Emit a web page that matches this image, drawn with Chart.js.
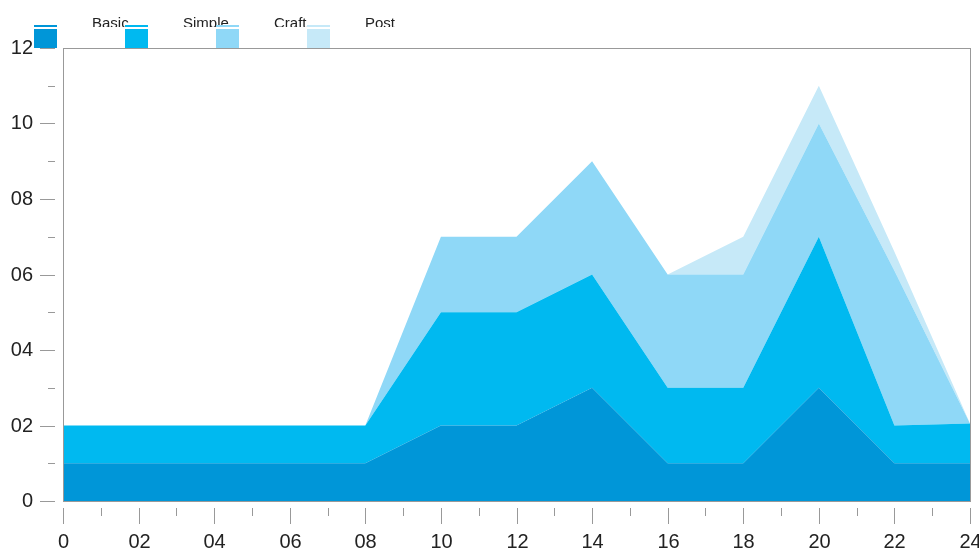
<!DOCTYPE html>
<html>
<head>
<meta charset="utf-8">
<script src="https://cdn.jsdelivr.net/npm/chart.js@4.4.1/dist/chart.umd.min.js"></script>
<style>
  body { margin: 0; background: #fff; }
  canvas { display: block; }
</style>
</head>
<body>
<canvas id="myChart" width="979" height="550"></canvas>
<script>
const hours = [0, 2, 4, 6, 8, 10, 12, 14, 16, 18, 20, 22, 24];
const seriesNames = ['Basic', 'Simple', 'Craft', 'Post'];
const basic = [1, 1, 1, 1, 1, 2, 2, 3, 1, 1, 3, 1, 1];
const simple = [1, 1, 1, 1, 1, 3, 3, 3, 2, 2, 4, 1, 1.05];
const craft = [0, 0, 0, 0, 0, 2, 2, 3, 3, 3, 3, 4.1, 0];
const post = [0, 0, 0, 0, 0, 0, 0, 0, 0, 1, 1, 0.5, 0];
const xTickLabels = ['0', '02', '04', '06', '08', '10', '12', '14', '16', '18', '20', '22', '24'];
const yTickLabels = ['0', '02', '04', '06', '08', '10', '12'];
const colors = ['#0096d8', '#00b9f0', '#8fd8f7', '#c6e9f8'];

const ctx = document.querySelector('#myChart').getContext('2d');
const font = "'Liberation Sans', Arial, sans-serif";

function points(values) {
    return values.map((v, i) => ({ x: hours[i], y: v }));
}

// axes, ticks and the odd legend are drawn by hand
const decorations = {
    id: 'decorations',
    afterDraw(chart) {
        const c = chart.ctx;
        const area = chart.chartArea;
        const xs = chart.scales.x;
        const ys = chart.scales.y;
        c.save();
        c.strokeStyle = '#999';
        c.lineWidth = 1;
        c.strokeRect(Math.round(area.left) + 0.5, Math.round(area.top) + 0.5,
            Math.round(area.right - area.left), Math.round(area.bottom - area.top));

        c.strokeStyle = '#999';
        c.fillStyle = '#222';
        c.font = '20px ' + font;

        // y ticks
        c.textAlign = 'right';
        c.textBaseline = 'middle';
        for (let v = 0; v <= 12; v++) {
            const y = Math.round(ys.getPixelForValue(v)) + 0.5;
            c.beginPath();
            c.moveTo(v % 2 === 0 ? 40 : 48, y);
            c.lineTo(55, y);
            c.stroke();
            if (v % 2 === 0) c.fillText(yTickLabels[v / 2], 33, y);
        }

        // x ticks
        c.textAlign = 'center';
        c.textBaseline = 'middle';
        for (let v = 0; v <= 24; v++) {
            const x = Math.round(xs.getPixelForValue(v)) + 0.5;
            c.beginPath();
            c.moveTo(x, 508);
            c.lineTo(x, v % 2 === 0 ? 524 : 516);
            c.stroke();
            if (v % 2 === 0) c.fillText(xTickLabels[v / 2], x, 542);
        }

        // legend
        seriesNames.forEach((name, i) => {
            const bx = 34 + i * 91;
            c.fillStyle = colors[i];
            c.fillRect(bx, 25, 23, 2);
            c.fillRect(bx, 29, 23, 19);
            c.save();
            c.beginPath();
            c.rect(bx + 50, 0, 60, 27);
            c.clip();
            c.fillStyle = '#222';
            c.font = '15px ' + font;
            c.textAlign = 'left';
            c.textBaseline = 'alphabetic';
            c.fillText(name, bx + 58, 28);
            c.restore();
        });
        c.restore();
    }
};

const config = {
    type: 'line',
    data: {
        datasets: [basic, simple, craft, post].map((values, i) => ({
            label: seriesNames[i],
            data: points(values),
            backgroundColor: colors[i],
            borderWidth: 0,
            pointRadius: 0,
            fill: i === 0 ? 'origin' : '-1',
            tension: 0
        }))
    },
    options: {
        responsive: false,
        animation: false,
        devicePixelRatio: 1,
        layout: { padding: { left: 63, top: 48, right: 9, bottom: 49 } },
        plugins: {
            legend: { display: false },
            tooltip: { enabled: false }
        },
        scales: {
            x: { type: 'linear', min: 0, max: 24, display: false },
            y: { stacked: true, min: 0, max: 12, display: false }
        }
    },
    plugins: [decorations]
};

window.chart = new Chart(ctx, config);
</script>
</body>
</html>
